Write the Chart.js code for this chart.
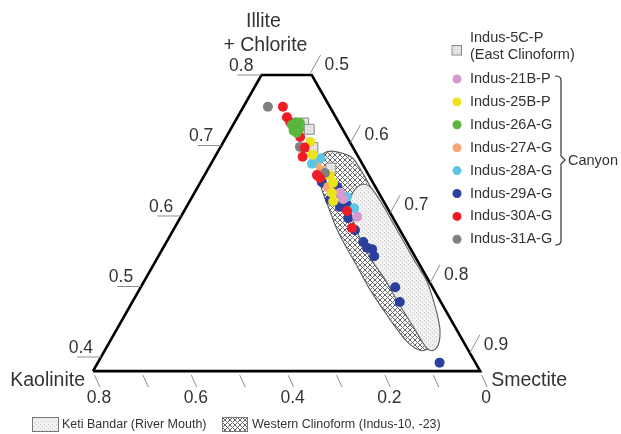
<!DOCTYPE html>
<html>
<head>
<meta charset="utf-8">
<script src="https://cdn.jsdelivr.net/npm/chart.js@4.4.0/dist/chart.umd.min.js"></script>
<style>
  html, body { margin: 0; padding: 0; background: #fff; }
  #wrap { width: 621px; height: 434px; }
</style>
</head>
<body>
<div id="wrap"><canvas id="clayChart" width="621" height="434"></canvas></div>
<script>
// Samples as [kaolinite, illite + chlorite]
const indus5C = [[0.073, 0.732], [0.069, 0.723], [0.083, 0.697], [0.070, 0.668]];
const indus21B = [[0.080, 0.633], [0.081, 0.624], [0.073, 0.599]];
const indus25B = [[0.082, 0.705], [0.092, 0.687], [0.081, 0.657], [0.083, 0.647], [0.097, 0.633], [0.104, 0.621]];
const indus26A = [[0.100, 0.729], [0.088, 0.733], [0.081, 0.732], [0.090, 0.723], [0.103, 0.721], [0.099, 0.718]];
const indus27A = [[0.093, 0.675], [0.093, 0.665], [0.098, 0.641]];
const indus28A = [[0.080, 0.682], [0.104, 0.674], [0.071, 0.627], [0.069, 0.611]];
const indus29A = [[0.105, 0.648], [0.079, 0.641], [0.109, 0.623], [0.097, 0.613], [0.080, 0.616], [0.093, 0.597],
                  [0.093, 0.580], [0.090, 0.563], [0.089, 0.555], [0.080, 0.553], [0.084, 0.543], [0.077, 0.499],
                  [0.085, 0.478], [0.074, 0.392]];
const indus30A = [[0.097, 0.755], [0.101, 0.740], [0.100, 0.733], [0.097, 0.712], [0.100, 0.697], [0.115, 0.684],
                  [0.107, 0.658], [0.104, 0.654], [0.087, 0.607], [0.097, 0.583]];
const indus31A = [[0.128, 0.755], [0.109, 0.698], [0.088, 0.661]];

// Reference fields (outlines)
const ketiBandar = [[0.076, 0.616], [0.057, 0.631], [0.038, 0.641], [0.023, 0.645], [0.012, 0.643], [0.009, 0.637],
                    [0.007, 0.626], [0.006, 0.611], [0.006, 0.592], [0.006, 0.572], [0.006, 0.552], [0.006, 0.535],
                    [0.005, 0.521], [0.005, 0.506], [0.011, 0.487], [0.022, 0.461], [0.035, 0.438], [0.056, 0.417],
                    [0.074, 0.409], [0.084, 0.413], [0.086, 0.443], [0.089, 0.477], [0.089, 0.509], [0.094, 0.538],
                    [0.093, 0.566], [0.086, 0.592]];
const westernClinoform = [[0.085, 0.679], [0.070, 0.688], [0.050, 0.692], [0.029, 0.689], [0.015, 0.684], [0.011, 0.675],
                          [0.010, 0.651], [0.011, 0.623], [0.012, 0.594], [0.013, 0.566], [0.016, 0.535], [0.017, 0.509],
                          [0.024, 0.481], [0.043, 0.445], [0.069, 0.417], [0.097, 0.409], [0.117, 0.423], [0.127, 0.461],
                          [0.132, 0.498], [0.131, 0.532], [0.131, 0.559], [0.129, 0.583], [0.122, 0.609], [0.115, 0.634],
                          [0.105, 0.658]];

// Diagram frame: Kaolinite corner, Smectite corner, truncated top
const frame = [[0.8, 0.38], [0, 0.38], [0, 0.80], [0.104, 0.80], [0.8, 0.38]];

const illiteTicks = [0.4, 0.5, 0.6, 0.7, 0.8];
const smectiteTicks = [0.5, 0.6, 0.7, 0.8, 0.9];
const kaoliniteTicks = [0.8, 0.7, 0.6, 0.5, 0.4, 0.3, 0.2, 0.1, 0];
const kaoliniteLabels = [0.8, 0.6, 0.4, 0.2, 0];

const I_BASE = 0.38;
const SHEAR = 0.8285;
const FONT = '"Liberation Sans", Arial, sans-serif';

function toXY(p) {
    return { x: p[0] + (p[1] - I_BASE) * SHEAR, y: p[1] };
}
function closed(arr) {
    return arr.concat([arr[0]]).map(toXY);
}
// kaolinite value on the left edge at a given illite value
function kLeft(i) {
    return 0.8 - (i - I_BASE) * (0.8 - 0.104) / (0.80 - I_BASE);
}
// illite value where a smectite tick meets the right edge
function smectiteOnEdge(s) {
    return 0.803 - (s - 0.5) * 0.993;
}

function makePattern(size, draw) {
    const c = document.createElement('canvas');
    c.width = c.height = size;
    const g = c.getContext('2d');
    draw(g, size);
    return g.createPattern(c, 'repeat');
}
const hatch = makePattern(5, (g, s) => {
    g.fillStyle = '#ffffff';
    g.fillRect(0, 0, s, s);
    g.strokeStyle = '#686868';
    g.lineWidth = 1;
    g.beginPath();
    g.moveTo(-1, -1); g.lineTo(s + 1, s + 1);
    g.moveTo(s + 1, -1); g.lineTo(-1, s + 1);
    g.stroke();
});
const stipple = makePattern(4, (g, s) => {
    g.fillStyle = '#f2f2f2';
    g.fillRect(0, 0, s, s);
    g.fillStyle = '#cccccc';
    g.fillRect(0, 0, 1, 1);
    g.fillRect(2, 2, 1, 1);
});
const squareFill = makePattern(3, (g, s) => {
    g.fillStyle = '#e6e6e6';
    g.fillRect(0, 0, s, s);
    g.fillStyle = '#c4c4c4';
    g.fillRect(1, 1, 1, 1);
});

// first entry is drawn on top
const samples = [
    { label: 'Indus-26A-G', data: indus26A, color: '#5bb73c' },
    { label: 'Indus-30A-G', data: indus30A, color: '#ee1d25' },
    { label: 'Indus-31A-G', data: indus31A, color: '#808080' },
    { label: 'Indus-25B-P', data: indus25B, color: '#ede31c' },
    { label: 'Indus-21B-P', data: indus21B, color: '#d59bd0' },
    { label: 'Indus-28A-G', data: indus28A, color: '#5bc7e5' },
    { label: 'Indus-27A-G', data: indus27A, color: '#f7a573' },
    { label: 'Indus-29A-G', data: indus29A, color: '#2b3f9e' },
    { label: 'Indus-5C-P', data: indus5C, color: squareFill, square: true },
];
const legendOrder = ['Indus-21B-P', 'Indus-25B-P', 'Indus-26A-G', 'Indus-27A-G', 'Indus-28A-G',
                     'Indus-29A-G', 'Indus-30A-G', 'Indus-31A-G'];

const datasets = [
    {
        type: 'line', label: 'Western Clinoform', data: closed(westernClinoform), order: 100,
        borderColor: '#5e5e5e', borderWidth: 1.1, backgroundColor: hatch, fill: 'shape',
        pointRadius: 0, tension: 0.3
    },
    {
        type: 'line', label: 'Keti Bandar', data: closed(ketiBandar), order: 99,
        borderColor: '#5e5e5e', borderWidth: 1.1, backgroundColor: stipple, fill: 'shape',
        pointRadius: 0, tension: 0.3
    },
    {
        type: 'line', label: 'frame', data: frame.map(toXY), order: 98,
        borderColor: '#000', borderWidth: 2.6, fill: false, pointRadius: 0, tension: 0,
        borderJoinStyle: 'miter'
    }
];
samples.forEach(s => {
    datasets.push({
        type: 'scatter', label: s.label, data: s.data.map(toXY), order: 1,
        backgroundColor: s.color,
        borderColor: s.square ? '#8a8a8a' : s.color,
        borderWidth: s.square ? 1 : 0,
        pointStyle: s.square ? 'rect' : 'circle',
        pointRadius: s.square ? 7 : 5
    });
});

function line(ctx, x1, y1, x2, y2) {
    ctx.beginPath();
    ctx.moveTo(x1, y1);
    ctx.lineTo(x2, y2);
    ctx.stroke();
}

const decor = {
    id: 'decor',
    afterDraw(chart) {
        const { ctx, scales: { x, y } } = chart;
        const px = (k, i) => {
            const p = toXY([k, i]);
            return [x.getPixelForValue(p.x), y.getPixelForValue(p.y)];
        };
        ctx.save();
        ctx.strokeStyle = '#8e8e8e';
        ctx.lineWidth = 1;
        ctx.fillStyle = '#333';
        ctx.textBaseline = 'middle';
        ctx.font = '17.5px ' + FONT;

        // Illite + Chlorite axis (left edge)
        ctx.textAlign = 'right';
        illiteTicks.forEach(v => {
            const [ex, ey] = px(kLeft(v), v);
            line(ctx, ex, ey, ex - 24, ey);
            ctx.fillText(v.toFixed(1), ex - 8, ey - 9);
        });

        // Smectite axis (right edge)
        ctx.textAlign = 'left';
        smectiteTicks.forEach(v => {
            const [ex, ey] = px(0, smectiteOnEdge(v));
            line(ctx, ex, ey, ex + 10, ey - 18);
            ctx.fillText(v.toFixed(1), ex + 14, ey - 8);
        });

        // Kaolinite axis (bottom edge)
        kaoliniteTicks.forEach(v => {
            const [ex, ey] = px(v, I_BASE);
            line(ctx, ex + 1.5, ey + 4, ex + 7, ey + 16);
        });
        ctx.textAlign = 'center';
        kaoliniteLabels.forEach(v => {
            const [ex, ey] = px(v, I_BASE);
            ctx.fillText(v === 0 ? '0' : v.toFixed(1), ex + 6, ey + 27);
        });

        // corner names
        ctx.font = '19.5px ' + FONT;
        const [tx, ty] = px(frame[3][0], frame[3][1]);
        ctx.fillText('Illite', tx + 2, ty - 53);
        ctx.fillText('+ Chlorite', tx + 4, ty - 29);
        const [kx, ky] = px(frame[0][0], frame[0][1]);
        ctx.textAlign = 'right';
        ctx.fillText('Kaolinite', kx - 8, ky + 10);
        const [sx, sy] = px(frame[1][0], frame[1][1]);
        ctx.textAlign = 'left';
        ctx.fillText('Smectite', sx + 11, sy + 10);

        // legend, right side
        ctx.font = '14.5px ' + FONT;
        ctx.fillStyle = squareFill;
        ctx.fillRect(452, 45.5, 9.5, 9.5);
        ctx.strokeStyle = '#8a8a8a';
        ctx.strokeRect(452, 45.5, 9.5, 9.5);
        ctx.fillStyle = '#333';
        ctx.fillText('Indus-5C-P', 470, 38);
        ctx.fillText('(East Clinoform)', 470, 55);
        legendOrder.forEach((name, n) => {
            const s = samples.find(d => d.label === name);
            const ry = 79 + n * 22.9;
            ctx.beginPath();
            ctx.arc(457, ry, 4.5, 0, Math.PI * 2);
            ctx.fillStyle = s.color;
            ctx.fill();
            ctx.fillStyle = '#333';
            ctx.fillText(name, 470, ry);
        });

        // bracket for canyon samples
        ctx.strokeStyle = '#333';
        ctx.lineWidth = 1.2;
        ctx.beginPath();
        ctx.moveTo(555, 76);
        ctx.quadraticCurveTo(561, 76, 561, 80);
        ctx.lineTo(561, 156);
        ctx.lineTo(565, 160);
        ctx.lineTo(561, 164);
        ctx.lineTo(561, 241);
        ctx.quadraticCurveTo(561, 245, 555, 245);
        ctx.stroke();
        ctx.fillText('Canyon', 568, 161);

        // legend, bottom
        ctx.font = '12.5px ' + FONT;
        ctx.strokeStyle = '#777';
        ctx.lineWidth = 1;
        ctx.fillStyle = stipple;
        ctx.fillRect(32.5, 417.5, 26, 14);
        ctx.strokeRect(32.5, 417.5, 26, 14);
        ctx.fillStyle = hatch;
        ctx.fillRect(222.5, 417.5, 25, 14);
        ctx.strokeRect(222.5, 417.5, 25, 14);
        ctx.fillStyle = '#333';
        ctx.fillText('Keti Bandar (River Mouth)', 62, 425);
        ctx.fillText('Western Clinoform (Indus-10, -23)', 252, 425);
        ctx.restore();
    }
};

new Chart(document.getElementById('clayChart'), {
    type: 'scatter',
    data: { datasets: datasets },
    options: {
        responsive: false,
        animation: false,
        events: [],
        layout: { padding: 0, autoPadding: false },
        scales: {
            x: { type: 'linear', display: false, reverse: true, min: -0.2909, max: 0.99215 },
            y: { type: 'linear', display: false, min: 0.29078, max: 0.90638 }
        },
        plugins: {
            legend: { display: false },
            tooltip: { enabled: false }
        }
    },
    plugins: [decor]
});
</script>
</body>
</html>
